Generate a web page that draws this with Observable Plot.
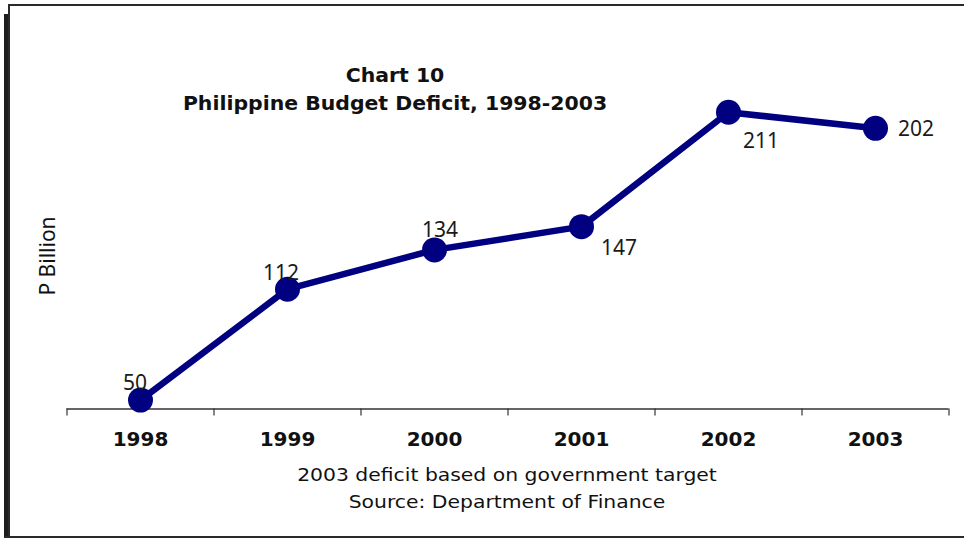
<!DOCTYPE html>
<html>
<head>
<meta charset="utf-8">
<script src="https://cdn.jsdelivr.net/npm/d3@7"></script>
<script src="https://cdn.jsdelivr.net/npm/@observablehq/plot@0.6"></script>
<style>
  body { margin: 0; background: #fff; }
  #wrap { position: relative; width: 964px; height: 538px; overflow: hidden; background: #fff; }
  #chart { position: absolute; left: 0; top: 0; }
  .frame { position: absolute; background: #2a2a2a; }
  .txt { position: absolute; white-space: nowrap; transform: translate(-50%, -50%); color: #111; }
  .title { font-family: "DejaVu Sans", Verdana, sans-serif; font-weight: bold; font-size: 19px; left: 395px; transform: translate(-50%, -50%) scaleX(1.075); }
  .foot { font-family: "DejaVu Sans", Verdana, sans-serif; font-size: 18px; left: 507px; transform: translate(-50%, -50%) scaleX(1.13); }
  .ylab { font-family: "Noto Sans", sans-serif; font-size: 21px; left: 47px; top: 256px; transform: translate(-50%, -50%) rotate(-90deg); }
</style>
</head>
<body>
<div id="wrap">
  <div id="chart"></div>
  <div class="frame" style="left:8px; top:4px; width:956px; height:2px;"></div>
  <div class="frame" style="left:4px; top:14px; width:5px; height:524px; background:#1e1e1e;"></div>
  <div class="frame" style="left:8px; top:4px; width:1.5px; height:534px;"></div>
  <div class="frame" style="left:4px; top:535.5px; width:960px; height:2.5px;"></div>
  <div class="txt title" id="t1" style="top:75px;"></div>
  <div class="txt title" id="t2" style="top:103px;"></div>
  <div class="txt foot" id="f1" style="top:474px;"></div>
  <div class="txt foot" id="f2" style="top:501px;"></div>
  <div class="txt ylab" id="yl"></div>
</div>
<script>
const titleLines = ["Chart 10", "Philippine Budget Deficit, 1998-2003"];
const footLines = ["2003 deficit based on government target", "Source: Department of Finance"];
const yLabel = "P Billion";
const years = ["1998", "1999", "2000", "2001", "2002", "2003"];
const deficit = [50, 112, 134, 147, 211, 202];

document.getElementById("t1").textContent = titleLines[0];
document.getElementById("t2").textContent = titleLines[1];
document.getElementById("f1").textContent = footLines[0];
document.getElementById("f2").textContent = footLines[1];
document.getElementById("yl").textContent = yLabel;

const data = years.map((y, i) => ({year: y, value: deficit[i], idx: i}));
const navy = "#000080";
const xc = d => d.idx + 0.5;
const lab = (yr, dx, dy) => Plot.text(data, {
  filter: d => d.year === yr, x: xc, y: "value", text: d => String(d.value),
  dx, dy, fontFamily: "Noto Sans", fontSize: 21, fill: "#1a1a1a", textAnchor: "middle", lineAnchor: "middle"
});

const chart = Plot.plot({
  width: 964,
  height: 538,
  marginLeft: 66.5,
  marginRight: 15.5,
  marginTop: 42,
  marginBottom: 129.5,
  style: {background: "transparent", overflow: "visible"},
  x: {type: "linear", domain: [0, years.length], label: null},
  y: {domain: [45, 250], axis: null},
  marks: [
    Plot.axisX({ticks: d3.range(0, years.length + 1), tickFormat: () => "", tickSize: 7, stroke: "#333", strokeWidth: 1.2, label: null}),
    Plot.axisX({ticks: years.map((_, i) => i + 0.5), tickFormat: v => years[Math.floor(v)], tickSize: 0, tickPadding: 23,
      fontFamily: "DejaVu Sans", fontWeight: "bold", fontSize: 20, fill: "#111", label: null}),
    Plot.ruleY([45], {stroke: "#333", strokeWidth: 1.5}),
    Plot.line(data, {x: xc, y: "value", stroke: navy, strokeWidth: 6.5, strokeLinejoin: "round"}),
    Plot.dot(data, {x: xc, y: "value", r: 12.5, fill: navy, stroke: "none"}),
    lab("1998", -5.5, -16.5),
    lab("1999", -6.5, -16),
    lab("2000", 5.5, -20),
    lab("2001", 37.5, 22),
    lab("2002", 32.5, 29.5),
    lab("2003", 40.5, 1)
  ]
});
document.getElementById("chart").appendChild(chart);
</script>
</body>
</html>
